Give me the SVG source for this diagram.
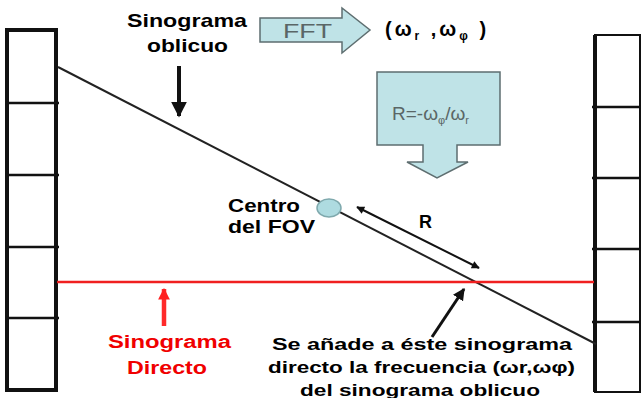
<svg xmlns="http://www.w3.org/2000/svg" width="643" height="398" viewBox="0 0 643 398">
<style>
.t{font-family:"Liberation Sans",Arial,sans-serif;font-weight:bold;fill:#000}
.red{fill:#f00000}
.gray{font-family:"Liberation Sans",Arial,sans-serif;fill:#5a6666}
.col{fill:none;stroke:#111}
.div{stroke:#111;stroke-width:2.5}
.block{fill:#bfe3e7;stroke:#5e6e70;stroke-width:1.5}
</style>
<defs>
<marker id="ah" viewBox="0 0 10 10" refX="9" refY="5" markerWidth="4" markerHeight="4" orient="auto-start-reverse" markerUnits="strokeWidth"><path d="M0,0 L10,5 L0,10 z" fill="#111"/></marker>
<marker id="ahs" viewBox="0 0 10 10" refX="9" refY="5" markerWidth="5" markerHeight="4" orient="auto-start-reverse" markerUnits="strokeWidth"><path d="M0,0 L10,5 L0,10 z" fill="#111"/></marker>
<marker id="ahr" viewBox="0 0 10 10" refX="9" refY="5" markerWidth="2.6" markerHeight="4" orient="auto" markerUnits="strokeWidth"><path d="M0,0 L10,5 L0,10 z" fill="#ff2020"/></marker>
</defs>
<rect width="643" height="398" fill="#fff"/>

<g id="left-column">
<rect class="col" x="7" y="30" width="49" height="360" stroke-width="4"/>
<line class="div" x1="7" y1="103" x2="59" y2="103"/>
<line class="div" x1="7" y1="175" x2="59" y2="175" stroke="#444"/>
<line class="div" x1="7" y1="247" x2="59" y2="247"/>
<line class="div" x1="7" y1="318" x2="59" y2="318"/>
</g>

<g id="right-column">
<rect class="col" x="595" y="35" width="45" height="357" stroke-width="2"/>
<line x1="595" y1="35" x2="595" y2="392" stroke="#111" stroke-width="4"/>
<line class="div" x1="592" y1="107" x2="641" y2="107" stroke="#333"/>
<line class="div" x1="592" y1="178" x2="641" y2="178"/>
<line class="div" x1="592" y1="249" x2="641" y2="249"/>
<line class="div" x1="592" y1="322" x2="641" y2="322" stroke="#333"/>
</g>

<g id="connectors">
<line x1="58" y1="67" x2="596" y2="344" stroke="#222" stroke-width="2"/>
<line x1="57" y1="282" x2="594" y2="282" stroke="#f02020" stroke-width="2.5"/>
<line x1="357" y1="207" x2="479" y2="268" stroke="#111" stroke-width="2" marker-start="url(#ahs)" marker-end="url(#ahs)"/>
<line x1="179" y1="66" x2="179" y2="116" stroke="#111" stroke-width="4" marker-end="url(#ah)"/>
<line x1="164" y1="326" x2="164" y2="289" stroke="#ff2a2a" stroke-width="4.5" marker-end="url(#ahr)"/>
<line x1="432" y1="337" x2="464" y2="289" stroke="#111" stroke-width="3" marker-end="url(#ah)"/>
</g>

<g id="label-oblique">
<text class="t" x="127" y="27" font-size="19" textLength="120" lengthAdjust="spacingAndGlyphs">Sinograma</text>
<text class="t" x="147" y="52" font-size="18" textLength="81" lengthAdjust="spacingAndGlyphs">oblicuo</text>
</g>

<g id="fft-arrow">
<polygon class="block" points="260,18 342,18 342,8 370,30 342,53 342,42 260,42"/>
<text class="gray" x="283" y="38" font-size="20" textLength="49" lengthAdjust="spacingAndGlyphs">FFT</text>
</g>

<g id="freq-label">
<text class="t" x="385" y="36" font-size="20" letter-spacing="3">(ω<tspan font-size="12" dy="4">r</tspan><tspan dy="-4"> ,ω</tspan><tspan font-size="12" dy="4">φ</tspan><tspan dy="-4"> )</tspan></text>
</g>

<g id="r-arrow">
<polygon class="block" points="377,72 500,72 500,145 457,145 457,162 468,162 437,178 407,162 423,162 423,145 377,145"/>
<text class="gray" x="392" y="120" font-size="19">R=-ω<tspan font-size="11" dy="4">φ</tspan><tspan dy="-4">/ω</tspan><tspan font-size="11" dy="4">r</tspan></text>
</g>

<g id="fov-center">
<ellipse cx="329" cy="208" rx="12" ry="9" fill="#aedbe0" stroke="#7fa9ad" stroke-width="1.5"/>
<text class="t" x="228" y="212" font-size="18" textLength="72" lengthAdjust="spacingAndGlyphs">Centro</text>
<text class="t" x="228" y="233" font-size="18" textLength="87" lengthAdjust="spacingAndGlyphs">del FOV</text>
</g>

<g id="label-r">
<text class="t" x="419" y="228" font-size="18">R</text>
</g>

<g id="label-direct">
<text class="t red" x="108" y="348" font-size="18" textLength="123" lengthAdjust="spacingAndGlyphs">Sinograma</text>
<text class="t red" x="127" y="374" font-size="18" textLength="80" lengthAdjust="spacingAndGlyphs">Directo</text>
</g>

<g id="label-bottom">
<text class="t" x="272" y="350" font-size="16" textLength="300" lengthAdjust="spacingAndGlyphs">Se añade a éste sinograma</text>
<text class="t" x="268" y="373" font-size="16" textLength="307" lengthAdjust="spacingAndGlyphs">directo la frecuencia (ωr,ωφ)</text>
<text class="t" x="300" y="396" font-size="16" textLength="240" lengthAdjust="spacingAndGlyphs">del sinograma oblicuo</text>
</g>
</svg>
